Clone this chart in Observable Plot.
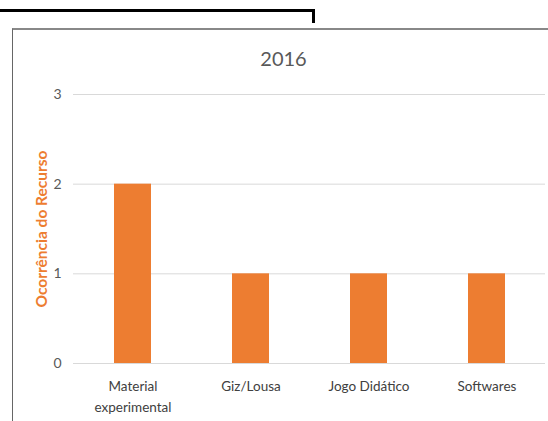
<!DOCTYPE html>
<html>
<head>
<meta charset="utf-8">
<script src="https://cdn.jsdelivr.net/npm/d3@7"></script>
<script src="https://cdn.jsdelivr.net/npm/@observablehq/plot@0.6"></script>
<style>
  html, body { margin: 0; padding: 0; background: #fff; }
  body { width: 548px; height: 421px; position: relative; overflow: hidden; font-family: Lato, "Open Sans", sans-serif; }
  #artifact { position: absolute; left: 0; top: 9px; width: 315px; height: 14px; border-top: 3px solid #000; border-right: 3px solid #000; box-sizing: border-box; }
  #frame { position: absolute; left: 12px; top: 28px; width: 536px; height: 393px; border-left: 1px solid #666; border-top: 2px solid #888; box-sizing: border-box; }
  #title { height: 48px; box-sizing: border-box; padding-top: 8px; line-height: 40px; text-align: center; font-size: 20px; color: #595959; padding-left: 6px; }
  #chart svg { display: block; }
</style>
</head>
<body>
<div id="artifact"></div>
<div id="frame">
  <div id="title">2016</div>
  <div id="chart"></div>
</div>
<script>
const categories = ["Material experimental", "Giz/Lousa", "Jogo Didático", "Softwares"];
const tickLabels = ["Material\nexperimental", "Giz/Lousa", "Jogo Didático", "Softwares"];
const values = [2, 1, 1, 1];
const yTicks = [0, 1, 2, 3];
const yTitle = "Ocorrência do Recurso";

const data = categories.map((c, i) => ({cat: c, value: values[i], label: tickLabels[i]}));

const chart = Plot.plot({
  width: 535,
  height: 343,
  marginLeft: 60,
  marginRight: 3,
  marginTop: 16,
  marginBottom: 58,
  style: {fontFamily: "Lato, 'Open Sans', sans-serif", fontSize: "13px", color: "#595959"},
  x: {domain: categories, paddingInner: 0.69, paddingOuter: 0.345, axis: null},
  y: {domain: [0, 3], ticks: yTicks, axis: null},
  marks: [
    Plot.gridY(yTicks, {stroke: "#d9d9d9", strokeOpacity: 1, strokeWidth: 1}),
    Plot.axisY(yTicks, {tickSize: 0, tickPadding: 12, tickFormat: d3.format("d"), label: null, fill: "#595959", fontSize: 14}),
    Plot.text([yTitle], {frameAnchor: "left", dx: -31, rotate: -90, textAnchor: "middle", text: d => d, fill: "#ED7D31", fontWeight: "bold", fontSize: 15.5}),
    Plot.barY(data, {x: "cat", y: "value", fill: "#ED7D31"}),
    Plot.text(data, {x: "cat", y: () => 0, text: "label", lineAnchor: "top", dy: 13, lineHeight: 1.55, fill: "#404040", fontSize: 13.5})
  ]
});
document.getElementById("chart").appendChild(chart);
</script>
</body>
</html>
